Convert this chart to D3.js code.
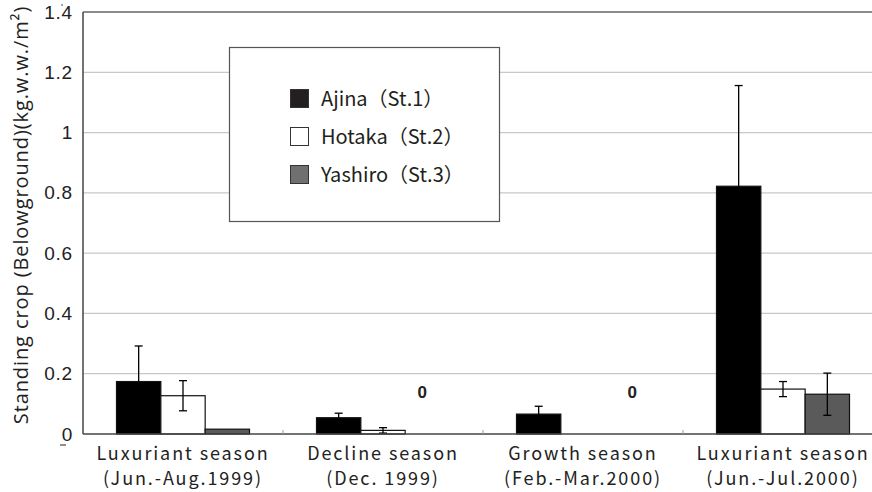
<!DOCTYPE html>
<html>
<head>
<meta charset="utf-8">
<script src="https://cdn.jsdelivr.net/npm/d3@7/dist/d3.min.js"></script>
<style>
  html, body { margin: 0; padding: 0; background: #fff; }
  svg { display: block; }
</style>
</head>
<body>
<svg id="chart" width="872" height="492"></svg>
<script>
// ---- data ----
const categories = ["Luxuriant season|(Jun.-Aug.1999)", "Decline season|(Dec. 1999)", "Growth season|(Feb.-Mar.2000)", "Luxuriant season|(Jun.-Jul.2000)"];
const seriesNames = ["Ajina（St.1）", "Hotaka（St.2）", "Yashiro（St.3）"];
const ajina   = [0.174, 0.054, 0.066, 0.822];
const ajinaErr   = [0.118, 0.015, 0.026, 0.334];
const hotaka  = [0.127, 0.012, 0.0, 0.149];
const hotakaErr  = [0.050, 0.009, 0.0, 0.025];
const yashiro = [0.016, 0.0, 0.0, 0.132];
const yashiroErr = [0.0, 0.0, 0.0, 0.070];
const zeroLabels = [null, "0", "0", null];
const yTicks = [0, 0.2, 0.4, 0.6, 0.8, 1, 1.2, 1.4];
const yTitle = "Standing crop (Belowground)(kg.w.w./m²)";

// ---- layout ----
const svg = d3.select("#chart");
const mLeft = 83, mRight = 883, mTop = 12, mBottom = 434;
const fills = ["#000000", "#ffffff", "#5a5a5a"];
const legendFills = ["#231f20", "#ffffff", "#707070"];
const zeroDx = [0, -5, 5, 0];

const x = d3.scaleBand().domain(categories).range([mLeft, mRight]).padding(0);
const groupPad = 33.5;
const x1 = d3.scaleBand().domain(seriesNames).range([groupPad, x.bandwidth() - groupPad]).padding(0);
const y = d3.scaleLinear().domain([0, 1.4]).range([mBottom, mTop]);

const values = [ajina, hotaka, yashiro];
const errs = [ajinaErr, hotakaErr, yashiroErr];

// gridlines
svg.append("g").selectAll("line").data(yTicks.filter(t => t > 0 && t < 1.4)).join("line")
  .attr("x1", mLeft).attr("x2", 872)
  .attr("y1", d => y(d)).attr("y2", d => y(d))
  .attr("stroke", "#c8c8c8").attr("stroke-width", 1.3);

// top frame line
svg.append("line").attr("x1", mLeft).attr("x2", 872)
  .attr("y1", y(1.4)).attr("y2", y(1.4))
  .attr("stroke", "#666").attr("stroke-width", 1.5);

// legend box
const lg = svg.append("g");
lg.append("rect").attr("x", 229.5).attr("y", 47.5).attr("width", 270).attr("height", 174)
  .attr("fill", "#fff").attr("stroke", "#555").attr("stroke-width", 1.2);
const legY = [99, 137, 175];
seriesNames.forEach((s, i) => {
  lg.append("rect").attr("x", 290.5).attr("y", legY[i] - 9.5).attr("width", 18).attr("height", 18)
    .attr("fill", legendFills[i]).attr("stroke", "#333").attr("stroke-width", 1);
  lg.append("text").attr("x", 321).attr("y", legY[i]).attr("dy", "0.36em")
    .attr("font-family", "'Noto Sans CJK JP', 'Noto Sans', sans-serif")
    .attr("font-size", 20).attr("fill", "#231f20").text(s);
});

// bars
const groups = svg.append("g").selectAll("g").data(categories).join("g")
  .attr("transform", d => `translate(${x(d)},0)`);
seriesNames.forEach((s, si) => {
  groups.filter((d, ci) => values[si][ci] > 0).append("rect")
    .attr("x", x1(s)).attr("width", x1.bandwidth())
    .attr("y", (d) => y(values[si][categories.indexOf(d)]))
    .attr("height", (d) => mBottom - y(values[si][categories.indexOf(d)]))
    .attr("fill", fills[si]).attr("stroke", "#111").attr("stroke-width", 1.2);
});
// error bars
seriesNames.forEach((s, si) => {
  groups.each(function(d, ci) {
    const v = values[si][ci], e = errs[si][ci];
    if (!(e > 0)) return;
    const cx = x1(s) + x1.bandwidth() / 2;
    const g = d3.select(this);
    g.append("line").attr("x1", cx).attr("x2", cx).attr("y1", y(v + e)).attr("y2", y(Math.max(0, v - e)))
      .attr("stroke", "#000").attr("stroke-width", 1.3);
    [v + e, v - e].forEach(t => {
      if (t < 0) return;
      g.append("line").attr("x1", cx - 4).attr("x2", cx + 4).attr("y1", y(t)).attr("y2", y(t))
        .attr("stroke", "#000").attr("stroke-width", 1.3);
    });
  });
});

// zero labels
groups.each(function(d, ci) {
  if (!zeroLabels[ci]) return;
  d3.select(this).append("text")
    .attr("x", x1(seriesNames[2]) + x1.bandwidth() / 2 + zeroDx[ci]).attr("y", 392).attr("dy", "0.36em")
    .attr("text-anchor", "middle").attr("font-family", "'Liberation Sans', Arial, sans-serif")
    .attr("font-weight", "bold").attr("font-size", 17).attr("fill", "#222").text(zeroLabels[ci]);
});

// x baseline and ticks
svg.append("line").attr("x1", mLeft).attr("x2", 872).attr("y1", mBottom).attr("y2", mBottom)
  .attr("stroke", "#444").attr("stroke-width", 1.5);
svg.append("g").selectAll("line").data(categories.slice(1)).join("line")
  .attr("x1", d => x(d)).attr("x2", d => x(d)).attr("y1", mBottom).attr("y2", mBottom - 4)
  .attr("stroke", "#999").attr("stroke-width", 1);

// x labels
const xl = svg.append("g").selectAll("text").data(categories).join("text")
  .attr("x", d => x(d) + x.bandwidth() / 2)
  .attr("text-anchor", "middle")
  .attr("font-family", "'Noto Sans CJK JP', 'Noto Sans', sans-serif")
  .attr("font-size", 18).attr("fill", "#222").attr("letter-spacing", 1.9);
xl.append("tspan").attr("x", d => x(d) + x.bandwidth() / 2).attr("y", 460).text(d => d.split("|")[0]);
xl.append("tspan").attr("x", d => x(d) + x.bandwidth() / 2).attr("y", 485).text(d => d.split("|")[1]);

// y axis
const yAxis = d3.axisLeft(y).tickValues(yTicks).tickSize(0).tickPadding(10).tickFormat(d => String(d));
const ya = svg.append("g").attr("transform", `translate(${mLeft},0)`).call(yAxis);
ya.select(".domain").remove();
ya.selectAll("text").attr("font-family", "'Liberation Sans', Arial, sans-serif")
  .attr("font-size", 19).attr("letter-spacing", 0.8).attr("fill", "#222");
svg.append("line").attr("x1", mLeft).attr("x2", mLeft).attr("y1", mTop).attr("y2", mBottom)
  .attr("stroke", "#444").attr("stroke-width", 1.5);

// small scan marks
svg.append("line").attr("x1", 60).attr("x2", 66).attr("y1", 445).attr("y2", 445).attr("stroke", "#444").attr("stroke-width", 1.2);
svg.append("line").attr("x1", 62).attr("x2", 62).attr("y1", 4).attr("y2", 6).attr("stroke", "#666").attr("stroke-width", 1.2);

// y title
svg.append("text").attr("transform", `translate(28,215) rotate(-90)`)
  .attr("text-anchor", "middle")
  .attr("font-family", "'Open Sans', 'Noto Sans', sans-serif")
  .attr("font-size", 20).attr("letter-spacing", 0.9).attr("fill", "#222").text(yTitle);
</script>
</body>
</html>
